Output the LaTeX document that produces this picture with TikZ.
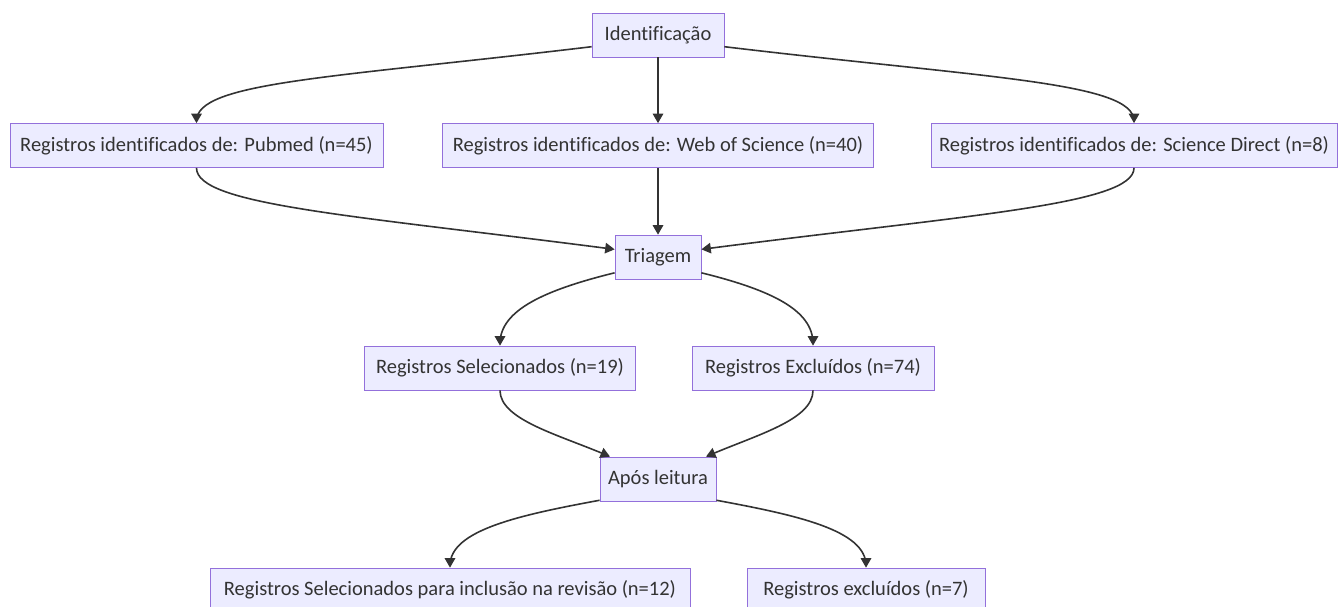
\documentclass[tikz,border=0pt]{standalone}
\usepackage{fontspec}
\setmainfont{Carlito}[Ligatures=NoCommon]
\usetikzlibrary{arrows}

\definecolor{boxfill}{HTML}{ECECFF}
\definecolor{boxline}{HTML}{9370DB}
\definecolor{edgeline}{HTML}{333333}

\tikzset{
  stage/.style={draw=boxline, fill=boxfill, line width=0.8pt, text=edgeline,
    minimum height=44pt, inner xsep=0pt, font=\fontsize{20.5}{24}\selectfont},
  flow/.style={draw=edgeline, line width=1.6pt, -triangle 60},
}

\begin{document}
\begin{tikzpicture}[x=1pt,y=-1pt]
    \path[use as bounding box] (0,0) rectangle (1340,606);
    % Stages.
    \node[stage, minimum width=132pt] (ident) at (658,35) {Identificação};
    \node[stage, minimum width=373pt] (pub) at (196.5,145.5) {Registros identificados de: Pubmed (n=45)};
    \node[stage, minimum width=431pt] (wos) at (658,145.5) {Registros identificados de: Web of Science (n=40)};
    \node[stage, minimum width=406pt] (sd) at (1134,145.5) {Registros identificados de: Science Direct (n=8)};
    \node[stage, minimum width=86pt] (tri) at (658,257) {Triagem};
    \node[stage, minimum width=271pt] (sel) at (500,368) {Registros Selecionados (n=19)};
    \node[stage, minimum width=242pt] (excl) at (813,368) {Registros Excluídos (n=74)};
    \node[stage, minimum width=116pt] (apos) at (658,479) {Após leitura};
    \node[stage, minimum width=480pt] (selinc) at (450,590) {Registros Selecionados para inclusão na revisão (n=12)};
    \node[stage, minimum width=238pt] (excl2) at (866,590) {Registros excluídos (n=7)};
    % Identification.
    \draw[flow] (ident.190) .. controls (330,78) and (196.5,82) .. (pub.north);
    \draw[flow] (ident) -- (wos);
    \draw[flow] (ident.350) .. controls (986,78) and (1134,82) .. (sd.north);
    % Screening.
    \draw[flow] (pub.south) .. controls (196.5,205) and (350,215) .. (tri.170);
    \draw[flow] (wos) -- (tri);
    \draw[flow] (sd.south) .. controls (1134,205) and (966,215) .. (tri.10);
    \draw[flow] (tri.200) .. controls (545,290) and (500,310) .. (sel.north);
    \draw[flow] (tri.340) .. controls (771,290) and (813,310) .. (excl.north);
    % Reading.
    \draw[flow] (sel.south) .. controls (500,420) and (560,435) .. (apos.155);
    \draw[flow] (excl.south) .. controls (813,420) and (756,435) .. (apos.25);
    \draw[flow] (apos.200) .. controls (520,515) and (450,530) .. (selinc.north);
    \draw[flow] (apos.340) .. controls (796,515) and (866,530) .. (excl2.north);
  \end{tikzpicture}
\end{document}
